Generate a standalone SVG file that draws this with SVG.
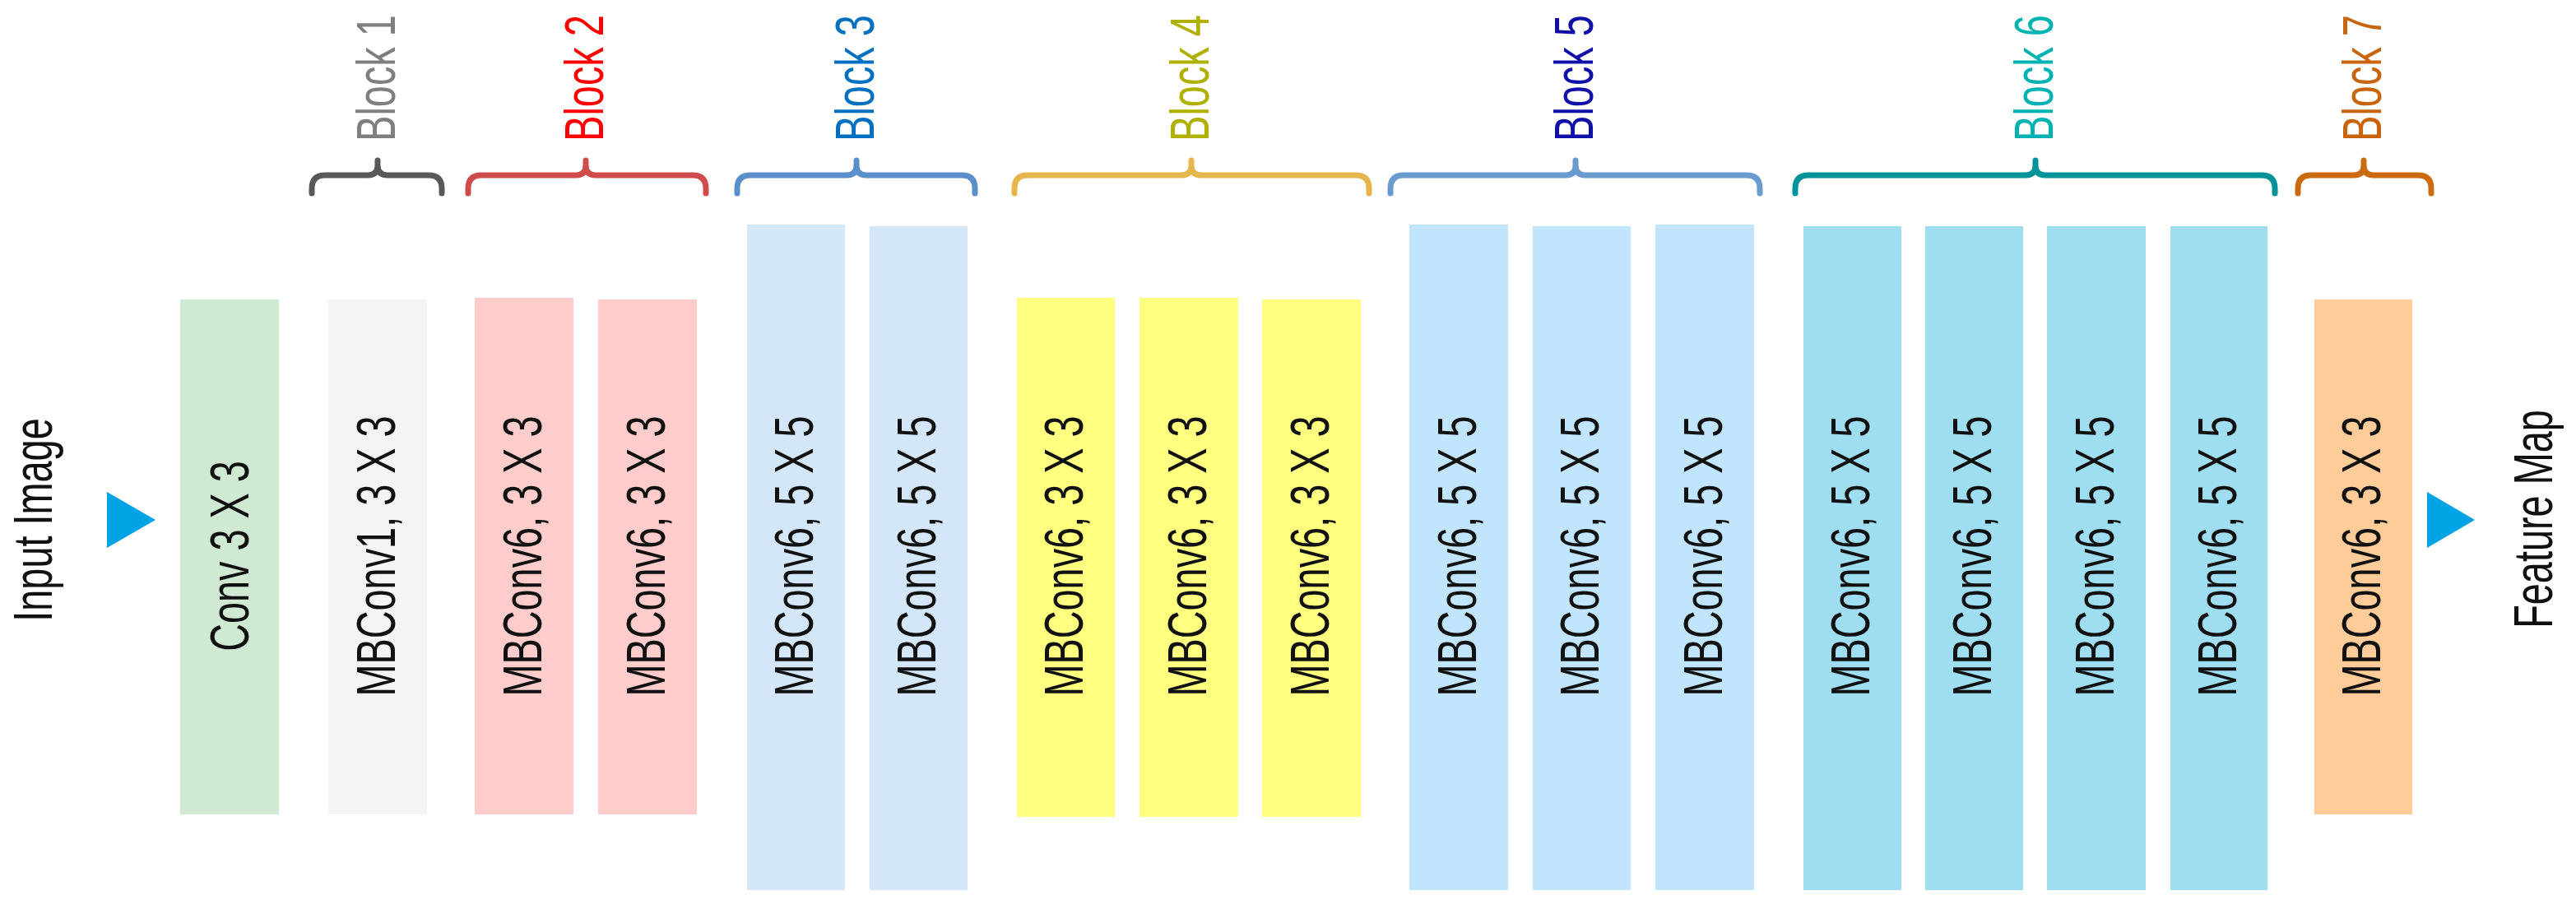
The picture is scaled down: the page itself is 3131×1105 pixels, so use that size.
<svg xmlns="http://www.w3.org/2000/svg" width="3131" height="1105" viewBox="0 0 3131 1105">
<style>
  text { font-family: "Liberation Sans", Arial, sans-serif; font-size: 66px; text-anchor: middle; }
  .lbl { fill: #111; }
  .brace { fill: none; stroke-width: 7; stroke-linecap: round; stroke-linejoin: round; }
  .arrow { fill: #00a3e3; }
</style>
<rect width="3131" height="1105" fill="#ffffff"/>

<!-- side labels -->
<g id="input-label"><text class="lbl" transform="translate(63,632) rotate(-90) scale(0.71,1)">Input Image</text></g>
<g id="output-label"><text class="lbl" transform="translate(3102,631) rotate(-90) scale(0.71,1)">Feature Map</text></g>

<!-- connectors -->
<g id="connectors">
  <polygon class="arrow" points="130,598 189,632 130,666"/>
  <polygon class="arrow" points="2950,598 3008,632 2950,666"/>
</g>

<!-- nodes -->
<g id="conv"><rect x="219" y="364" width="120" height="626" fill="#cfe9d3"/><text class="lbl" transform="translate(302,676) rotate(-90) scale(0.71,1)">Conv 3 X 3</text></g>
<g id="b1-1"><rect x="399" y="364" width="120" height="626" fill="#f4f4f4"/><text class="lbl" transform="translate(480,676) rotate(-90) scale(0.71,1)">MBConv1, 3 X 3</text></g>
<g id="b2-1"><rect x="577" y="362" width="120" height="628" fill="#ffcccc"/><text class="lbl" transform="translate(658,676) rotate(-90) scale(0.71,1)">MBConv6, 3 X 3</text></g>
<g id="b2-2"><rect x="727" y="364" width="120" height="626" fill="#ffcccc"/><text class="lbl" transform="translate(808,676) rotate(-90) scale(0.71,1)">MBConv6, 3 X 3</text></g>
<g id="b3-1"><rect x="908" y="273" width="119" height="809" fill="#d4e7f9"/><text class="lbl" transform="translate(988,676) rotate(-90) scale(0.71,1)">MBConv6, 5 X 5</text></g>
<g id="b3-2"><rect x="1057" y="275" width="119" height="807" fill="#d4e7f9"/><text class="lbl" transform="translate(1137,676) rotate(-90) scale(0.71,1)">MBConv6, 5 X 5</text></g>
<g id="b4-1"><rect x="1236" y="362" width="119" height="631" fill="#ffff80"/><text class="lbl" transform="translate(1316,676) rotate(-90) scale(0.71,1)">MBConv6, 3 X 3</text></g>
<g id="b4-2"><rect x="1385" y="362" width="120" height="631" fill="#ffff80"/><text class="lbl" transform="translate(1466,676) rotate(-90) scale(0.71,1)">MBConv6, 3 X 3</text></g>
<g id="b4-3"><rect x="1534" y="364" width="120" height="629" fill="#ffff80"/><text class="lbl" transform="translate(1615,676) rotate(-90) scale(0.71,1)">MBConv6, 3 X 3</text></g>
<g id="b5-1"><rect x="1713" y="273" width="120" height="809" fill="#c1e5fc"/><text class="lbl" transform="translate(1794,676) rotate(-90) scale(0.71,1)">MBConv6, 5 X 5</text></g>
<g id="b5-2"><rect x="1863" y="275" width="119" height="807" fill="#c1e5fc"/><text class="lbl" transform="translate(1943,676) rotate(-90) scale(0.71,1)">MBConv6, 5 X 5</text></g>
<g id="b5-3"><rect x="2012" y="273" width="120" height="809" fill="#c1e5fc"/><text class="lbl" transform="translate(2093,676) rotate(-90) scale(0.71,1)">MBConv6, 5 X 5</text></g>
<g id="b6-1"><rect x="2192" y="275" width="119" height="807" fill="#9fddf1"/><text class="lbl" transform="translate(2272,676) rotate(-90) scale(0.71,1)">MBConv6, 5 X 5</text></g>
<g id="b6-2"><rect x="2340" y="275" width="119" height="807" fill="#9fddf1"/><text class="lbl" transform="translate(2420,676) rotate(-90) scale(0.71,1)">MBConv6, 5 X 5</text></g>
<g id="b6-3"><rect x="2488" y="275" width="120" height="807" fill="#9fddf1"/><text class="lbl" transform="translate(2569,676) rotate(-90) scale(0.71,1)">MBConv6, 5 X 5</text></g>
<g id="b6-4"><rect x="2638" y="275" width="118" height="807" fill="#9fddf1"/><text class="lbl" transform="translate(2718,676) rotate(-90) scale(0.71,1)">MBConv6, 5 X 5</text></g>
<g id="b7-1"><rect x="2813" y="364" width="119" height="626" fill="#fecc99"/><text class="lbl" transform="translate(2893,676) rotate(-90) scale(0.71,1)">MBConv6, 3 X 3</text></g>

<!-- block braces and labels -->
<g id="block1">
  <path class="brace" stroke="#595959" d="M379,235 V229 Q379,213 395,213 H447 Q459,213 459,201 V195 M459,201 Q459,213 471,213 H521 Q537,213 537,229 V235"/>
  <text transform="translate(480,95) rotate(-90) scale(0.71,1)" fill="#7f7f7f">Block 1</text>
</g>
<g id="block2">
  <path class="brace" stroke="#cf4c4c" d="M569,235 V229 Q569,213 585,213 H700 Q712,213 712,201 V195 M712,201 Q712,213 724,213 H842 Q858,213 858,229 V235"/>
  <text transform="translate(733,95) rotate(-90) scale(0.71,1)" fill="#ff0000">Block 2</text>
</g>
<g id="block3">
  <path class="brace" stroke="#5b8fcb" d="M896,235 V229 Q896,213 912,213 H1029 Q1041,213 1041,201 V195 M1041,201 Q1041,213 1053,213 H1169 Q1185,213 1185,229 V235"/>
  <text transform="translate(1062,95) rotate(-90) scale(0.71,1)" fill="#0070c0">Block 3</text>
</g>
<g id="block4">
  <path class="brace" stroke="#e6b64c" d="M1233,235 V229 Q1233,213 1249,213 H1436 Q1448,213 1448,201 V195 M1448,201 Q1448,213 1460,213 H1648 Q1664,213 1664,229 V235"/>
  <text transform="translate(1469,95) rotate(-90) scale(0.71,1)" fill="#b0b000">Block 4</text>
</g>
<g id="block5">
  <path class="brace" stroke="#6a9bd0" d="M1690,235 V229 Q1690,213 1706,213 H1903 Q1915,213 1915,201 V195 M1915,201 Q1915,213 1927,213 H2123 Q2139,213 2139,229 V235"/>
  <text transform="translate(1936,95) rotate(-90) scale(0.71,1)" fill="#1010a8">Block 5</text>
</g>
<g id="block6">
  <path class="brace" stroke="#00939a" d="M2182,235 V229 Q2182,213 2198,213 H2462 Q2474,213 2474,201 V195 M2474,201 Q2474,213 2486,213 H2749 Q2765,213 2765,229 V235"/>
  <text transform="translate(2495,95) rotate(-90) scale(0.71,1)" fill="#00b2b2">Block 6</text>
</g>
<g id="block7">
  <path class="brace" stroke="#cc6a10" d="M2793,235 V229 Q2793,213 2809,213 H2861 Q2873,213 2873,201 V195 M2873,201 Q2873,213 2885,213 H2939 Q2955,213 2955,229 V235"/>
  <text transform="translate(2894,95) rotate(-90) scale(0.71,1)" fill="#c8640e">Block 7</text>
</g>
</svg>
